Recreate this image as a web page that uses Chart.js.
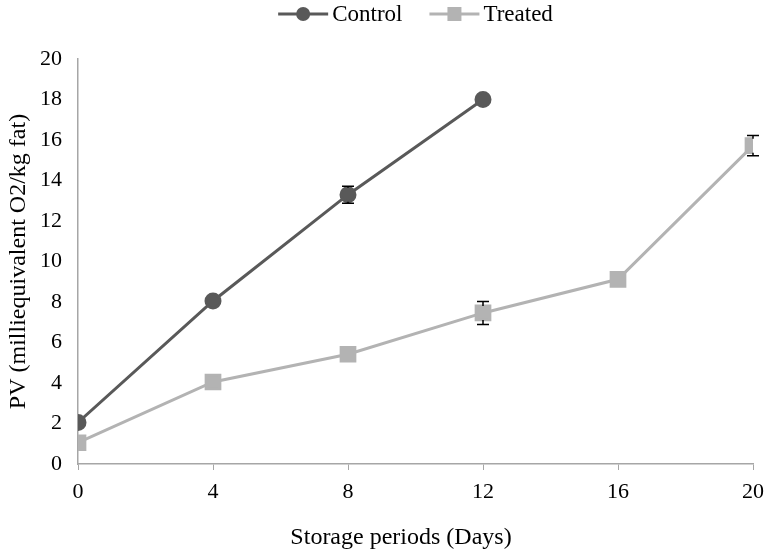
<!DOCTYPE html>
<html>
<head>
<meta charset="utf-8">
<script src="https://cdn.jsdelivr.net/npm/chart.js@4"></script>
<style>
  html, body { margin: 0; padding: 0; background: #fff; }
  #wrap { width: 773px; height: 552px; }
</style>
</head>
<body>
<div id="wrap"><canvas id="pvChart" width="773" height="552"></canvas></div>
<script>
// Storage days and PV values
const days = [0, 4, 8, 12, 16, 20];
const controlValues = [2.05, 8.05, 13.3, 18.0];
const controlErrors = [0.1, 0.15, 0.42, 0.15];
const treatedValues = [1.05, 4.05, 5.42, 7.46, 9.12, 15.72];
const treatedErrors = [0.1, 0.12, 0.15, 0.57, 0.15, 0.5];
const yTicks = [0, 2, 4, 6, 8, 10, 12, 14, 16, 18, 20];
const xTitle = 'Storage periods (Days)';
const yTitle = 'PV (milliequivalent O2/kg fat)';

const controlColor = '#595959';
const treatedColor = '#b3b3b3';
const axisColor = '#a6a6a6';
const fontFamily = "'Liberation Serif', 'Times New Roman', serif";

// error bars drawn from the errors arrays
const errorBars = {
    id: 'errorBars',
    afterDatasetsDraw(chart) {
        const ctx = chart.ctx;
        const yScale = chart.scales.y;
        chart.data.datasets.forEach((ds, i) => {
            const meta = chart.getDatasetMeta(i);
            ctx.save();
            ctx.strokeStyle = '#000';
            ctx.lineWidth = 1.5;
            meta.data.forEach((pt, j) => {
                const v = ds.data[j].y;
                const e = ds.errors[j];
                const yTop = yScale.getPixelForValue(v + e);
                const yBot = yScale.getPixelForValue(v - e);
                if (yBot - yTop < 15) return;
                ctx.beginPath();
                ctx.moveTo(pt.x, yTop); ctx.lineTo(pt.x, pt.y - 7);
                ctx.moveTo(pt.x, pt.y + 7); ctx.lineTo(pt.x, yBot);
                ctx.moveTo(pt.x - 6, yTop); ctx.lineTo(pt.x + 6, yTop);
                ctx.moveTo(pt.x - 6, yBot); ctx.lineTo(pt.x + 6, yBot);
                ctx.stroke();
            });
            ctx.restore();
        });
    }
};

// legend (line + marker, then label) and the x axis title
const seriesLegend = {
    id: 'seriesLegend',
    afterDraw(chart) {
        const ctx = chart.ctx;
        const area = chart.chartArea;
        const swatch = 50, gap = 4, itemGap = 27, cy = 14;
        ctx.save();
        ctx.font = '23px ' + fontFamily;
        const items = chart.data.datasets.map(ds => ({
            ds, w: swatch + gap + ctx.measureText(ds.label).width
        }));
        const total = items.reduce((s, it) => s + it.w, 0) + itemGap * (items.length - 1);
        let x = (area.left + area.right) / 2 - total / 2;
        items.forEach(({ ds, w }) => {
            ctx.strokeStyle = ds.borderColor;
            ctx.fillStyle = ds.borderColor;
            ctx.lineWidth = 3;
            ctx.beginPath();
            ctx.moveTo(x, cy); ctx.lineTo(x + swatch, cy);
            ctx.stroke();
            const mx = x + swatch / 2;
            if (ds.pointStyle === 'circle') {
                ctx.beginPath();
                ctx.arc(mx, cy, 7, 0, Math.PI * 2);
                ctx.fill();
            } else {
                ctx.fillRect(mx - 7, cy - 7, 14, 14);
            }
            ctx.fillStyle = '#000';
            ctx.textBaseline = 'middle';
            ctx.textAlign = 'left';
            ctx.fillText(ds.label, x + swatch + gap, cy + 1);
            x += w + itemGap;
        });

        // x axis title
        ctx.font = '24px ' + fontFamily;
        ctx.textAlign = 'center';
        ctx.fillText(xTitle, 401, 538);
        ctx.restore();
    }
};

new Chart(document.getElementById('pvChart'), {
    type: 'line',
    data: {
        datasets: [{
            label: 'Control',
            data: controlValues.map((v, i) => ({ x: days[i], y: v })),
            errors: controlErrors,
            borderColor: controlColor,
            backgroundColor: controlColor,
            borderWidth: 3,
            pointStyle: 'circle',
            pointRadius: 7,
            pointHoverRadius: 7
        }, {
            label: 'Treated',
            data: treatedValues.map((v, i) => ({ x: days[i], y: v })),
            errors: treatedErrors,
            borderColor: treatedColor,
            backgroundColor: treatedColor,
            borderWidth: 3,
            pointStyle: 'rect',
            pointRadius: 9.7,
            pointHoverRadius: 9.7
        }]
    },
    options: {
        responsive: false,
        animation: false,
        layout: { padding: { left: 0, right: 20, top: 59, bottom: 0 } },
        plugins: {
            tooltip: { enabled: false },
            legend: { display: false }
        },
        scales: {
            x: {
                type: 'linear',
                min: 0,
                max: 20,
                afterFit(scale) { scale.height = 88; },
                ticks: {
                    stepSize: 4,
                    color: '#000',
                    padding: 9,
                    font: { family: fontFamily, size: 22 }
                },
                grid: {
                    drawOnChartArea: false,
                    drawTicks: true,
                    tickLength: 6,
                    color: axisColor
                },
                border: { color: axisColor, width: 1.5 }
            },
            y: {
                min: 0,
                max: 20,
                afterBuildTicks(scale) {
                    scale.ticks = yTicks.map(v => ({ value: v }));
                },
                afterFit(scale) { scale.width = 78; },
                ticks: {
                    color: '#000',
                    padding: 16,
                    font: { family: fontFamily, size: 22 }
                },
                grid: {
                    display: true,
                    drawOnChartArea: false,
                    drawTicks: false,
                    color: axisColor
                },
                border: { color: axisColor, width: 1.5 },
                title: {
                    display: true,
                    text: yTitle,
                    color: '#000',
                    padding: { top: 4, bottom: 0 },
                    font: { family: fontFamily, size: 24 }
                }
            }
        }
    },
    plugins: [errorBars, seriesLegend]
});
</script>
</body>
</html>
